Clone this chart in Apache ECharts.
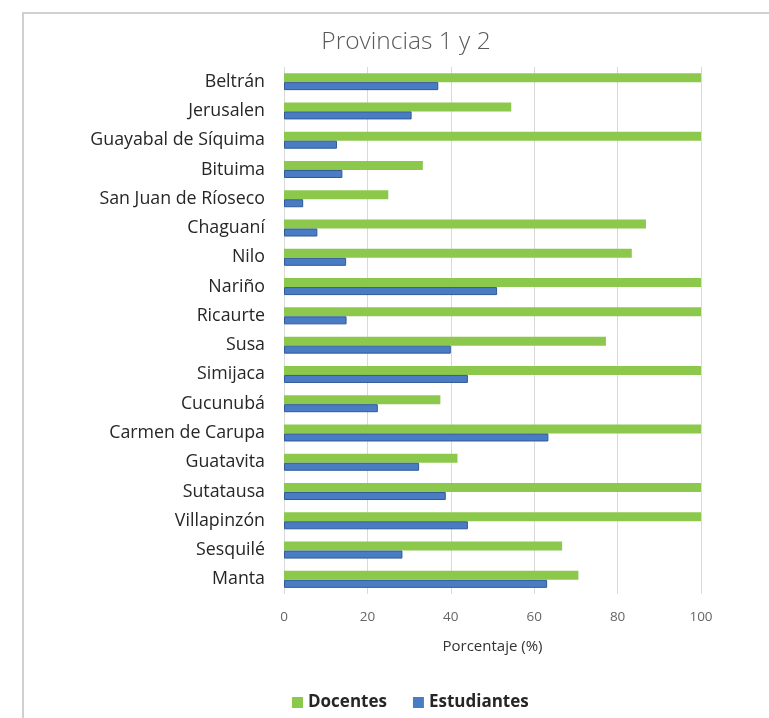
<!DOCTYPE html>
<html>
<head>
<meta charset="utf-8">
<script src="https://cdn.jsdelivr.net/npm/echarts@6/dist/echarts.min.js"></script>
<style>
html,body{margin:0;padding:0;background:#fff;}
#frame{position:absolute;left:22px;top:12px;width:760px;height:720px;border-left:2px solid #d0d0d0;border-top:2px solid #d0d0d0;box-sizing:border-box;}
#chart{position:absolute;left:0;top:0;width:769px;height:718px;}
</style>
</head>
<body>
<div id="frame"></div>
<div id="chart"></div>
<script>
const categories = ["Beltrán","Jerusalen","Guayabal de Síquima","Bituima","San Juan de Ríoseco","Chaguaní","Nilo","Nariño","Ricaurte","Susa","Simijaca","Cucunubá","Carmen de Carupa","Guatavita","Sutatausa","Villapinzón","Sesquilé","Manta"];
const docentes = [100,54.5,100,33.3,25,86.8,83.4,100,100,77.2,100,37.5,100,41.6,100,100,66.7,70.6];
const estudiantes = [37,30.6,12.7,14,4.6,8,14.9,51.1,15,40,44.1,22.5,63.4,32.4,38.8,44.1,28.4,63.1];
const xTicks = [0,20,40,60,80,100];

const chart = echarts.init(document.getElementById('chart'), null, {renderer:'canvas'});
chart.setOption({
  backgroundColor: 'transparent',
  animation: false,
  title: {
    text: 'Provincias 1 y 2',
    left: 401, top: 25, textAlign: 'center',
    textStyle: {fontFamily:'Open Sans', fontWeight: 300, fontSize: 24.5, color:'#595959'}
  },
  legend: {
    data: ['Docentes','Estudiantes'],
    top: 689,
    left: 287,
    icon: 'rect', itemWidth: 11, itemHeight: 11, itemGap: 26,
    itemStyle: {borderWidth: 0},
    textStyle: {fontFamily:'Open Sans', fontWeight:'bold', fontSize: 17, color:'#262626'}
  },
  grid: {left: 284, right: 68, top: 67, bottom: 124, containLabel: false},
  xAxis: {
    type: 'value', min: xTicks[0], max: xTicks[xTicks.length-1], interval: 20,
    name: 'Porcentaje (%)', nameLocation: 'middle', nameGap: 45,
    nameTextStyle: {fontFamily:'Open Sans', fontSize: 15, color:'#333'},
    axisLine: {show:false}, axisTick: {show:false},
    axisLabel: {fontFamily:'Open Sans', fontSize: 13.5, color:'#666', margin: 16},
    splitLine: {lineStyle: {color:'#d9d9d9', width: 1}}
  },
  yAxis: {
    type: 'category', data: categories, inverse: true,
    axisLine: {show:false}, axisTick: {show:false},
    axisLabel: {fontFamily:'Open Sans', fontSize: 17.8, color:'#262626', margin: 19}
  },
  series: [
    {name:'Docentes', type:'bar', data: docentes, barWidth: 9, barGap: '0%',
     itemStyle:{color:'#8cc84b'}},
    {name:'Estudiantes', type:'bar', data: estudiantes, barWidth: 8,
     itemStyle:{color:'#4a7cc4', borderColor:'#2f5a96', borderWidth:1}}
  ]
});
</script>
</body>
</html>
